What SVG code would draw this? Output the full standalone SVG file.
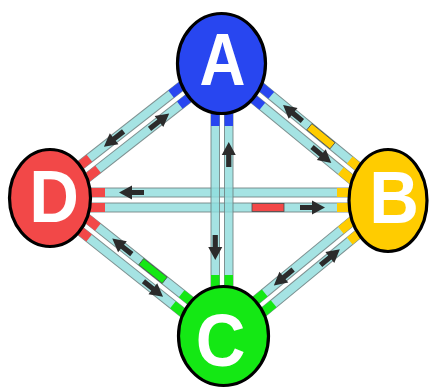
<svg xmlns="http://www.w3.org/2000/svg" xmlns:xlink="http://www.w3.org/1999/xlink" width="429" height="388" viewBox="0 0 429 388">
<defs>
<style>
.rail{fill:#8fdcdc;fill-opacity:.8;stroke:#6f8080;stroke-opacity:.85;stroke-width:1}
.arr{fill:#2b2b2b}
.bar{stroke:#4a4a4a;stroke-width:.8}
.node{stroke:#000;stroke-width:3.2}
.lbl{font-family:"Liberation Sans",Arial,sans-serif;font-weight:bold;font-size:74px;fill:#fff;text-anchor:middle}
.cA{fill:#2846f0}.cB{fill:#ffcc00}.cC{fill:#14e814}.cD{fill:#f24848}
</style>
<path id="arrow" class="arr" d="M0,0 L-13,-7 L-13,-2.6 L-25,-2.6 L-25,2.6 L-13,2.6 L-13,7 Z"/>
</defs>
<rect width="429" height="388" fill="#fff"/>
<g id="connectors">
  <g id="edge-D-B">
    <rect class="rail" x="50" y="188" width="338" height="9"/>
    <rect class="rail" x="50" y="203" width="338" height="9"/>
    <rect class="cD" x="50" y="188" width="55" height="9"/>
    <rect class="cD" x="50" y="203" width="55" height="9"/>
    <rect class="cB" x="337" y="188" width="51" height="9"/>
    <rect class="cB" x="337" y="203" width="51" height="9"/>
    <rect class="cD bar" x="252" y="203.5" width="32" height="8"/>
    <use xlink:href="#arrow" href="#arrow" transform="translate(119,192.5) rotate(180)"/>
    <use xlink:href="#arrow" href="#arrow" transform="translate(325,207.5)"/>
  </g>
  <g id="edge-A-C">
    <rect class="rail" x="211" y="63.5" width="8.5" height="272.5"/>
    <rect class="rail" x="224.5" y="63.5" width="8.5" height="272.5"/>
    <rect class="cA" x="211" y="63.5" width="8.5" height="62.5"/>
    <rect class="cA" x="224.5" y="63.5" width="8.5" height="62.5"/>
    <rect class="cC" x="211" y="275" width="8.5" height="61"/>
    <rect class="cC" x="224.5" y="275" width="8.5" height="61"/>
    <use xlink:href="#arrow" href="#arrow" transform="translate(228.75,142) rotate(-90)"/>
    <use xlink:href="#arrow" href="#arrow" transform="translate(215.25,260) rotate(90)"/>
  </g>
  <g id="edge-A-B" transform="translate(221.5,63.5) rotate(39.45)">
    <rect class="rail" x="0" y="-11.5" width="215.6" height="9"/>
    <rect class="rail" x="0" y="2.5" width="215.6" height="9"/>
    <rect class="cA" x="0" y="-11.5" width="58.7" height="9"/>
    <rect class="cA" x="0" y="2.5" width="58.7" height="9"/>
    <rect class="cB" x="160.3" y="-11.5" width="55.3" height="9"/>
    <rect class="cB" x="160.3" y="2.5" width="55.3" height="9"/>
    <rect class="cB bar" x="108" y="-11" width="30" height="8"/>
    <use xlink:href="#arrow" href="#arrow" transform="translate(74,-7) rotate(180)"/>
    <use xlink:href="#arrow" href="#arrow" transform="translate(148,7)"/>
  </g>
  <g id="edge-D-A" transform="translate(50,198) rotate(-38.1)">
    <rect class="rail" x="0" y="-11.5" width="217.9" height="9"/>
    <rect class="rail" x="0" y="2.5" width="217.9" height="9"/>
    <rect class="cD" x="0" y="-11.5" width="55.6" height="9"/>
    <rect class="cD" x="0" y="2.5" width="55.6" height="9"/>
    <rect class="cA" x="159.4" y="-11.5" width="58.5" height="9"/>
    <rect class="cA" x="159.4" y="2.5" width="58.5" height="9"/>
    <use xlink:href="#arrow" href="#arrow" transform="translate(74,-7) rotate(180)"/>
    <use xlink:href="#arrow" href="#arrow" transform="translate(146,7)"/>
  </g>
  <g id="edge-D-C" transform="translate(50,198) rotate(38.5)">
    <rect class="rail" x="0" y="-11.5" width="221.7" height="9"/>
    <rect class="rail" x="0" y="2.5" width="221.7" height="9"/>
    <rect class="cD" x="0" y="-11.5" width="55.6" height="9"/>
    <rect class="cD" x="0" y="2.5" width="55.6" height="9"/>
    <rect class="cC" x="162.6" y="-11.5" width="59.1" height="9"/>
    <rect class="cC" x="162.6" y="2.5" width="59.1" height="9"/>
    <rect class="cC bar" x="111" y="-11" width="30" height="8"/>
    <use xlink:href="#arrow" href="#arrow" transform="translate(74,-7) rotate(180)"/>
    <use xlink:href="#arrow" href="#arrow" transform="translate(150,7)"/>
  </g>
  <g id="edge-C-B" transform="translate(223.5,336) rotate(-39.48)">
    <rect class="rail" x="0" y="-11.5" width="213.1" height="9"/>
    <rect class="rail" x="0" y="2.5" width="213.1" height="9"/>
    <rect class="cC" x="0" y="-11.5" width="59.2" height="9"/>
    <rect class="cC" x="0" y="2.5" width="59.2" height="9"/>
    <rect class="cB" x="157.8" y="-11.5" width="55.3" height="9"/>
    <rect class="cB" x="157.8" y="2.5" width="55.3" height="9"/>
    <use xlink:href="#arrow" href="#arrow" transform="translate(71,-7) rotate(180)"/>
    <use xlink:href="#arrow" href="#arrow" transform="translate(145,7)"/>
  </g>
</g>
<g id="node-A">
  <ellipse class="node cA" cx="221.5" cy="63.5" rx="44" ry="50"/>
  <text class="lbl" transform="translate(222.5,85) scale(0.86,1)">A</text>
</g>
<g id="node-B">
  <ellipse class="node cB" cx="388" cy="200.5" rx="39" ry="51"/>
  <text class="lbl" transform="translate(394,223) scale(0.93,1)">B</text>
</g>
<g id="node-C">
  <ellipse class="node cC" cx="223.5" cy="336" rx="45" ry="49.5"/>
  <text class="lbl" transform="translate(220.5,366) scale(0.93,1)">C</text>
</g>
<g id="node-D">
  <ellipse class="node cD" cx="50" cy="198" rx="40.5" ry="48.5"/>
  <text class="lbl" transform="translate(54,222) scale(0.93,1)">D</text>
</g>
</svg>
